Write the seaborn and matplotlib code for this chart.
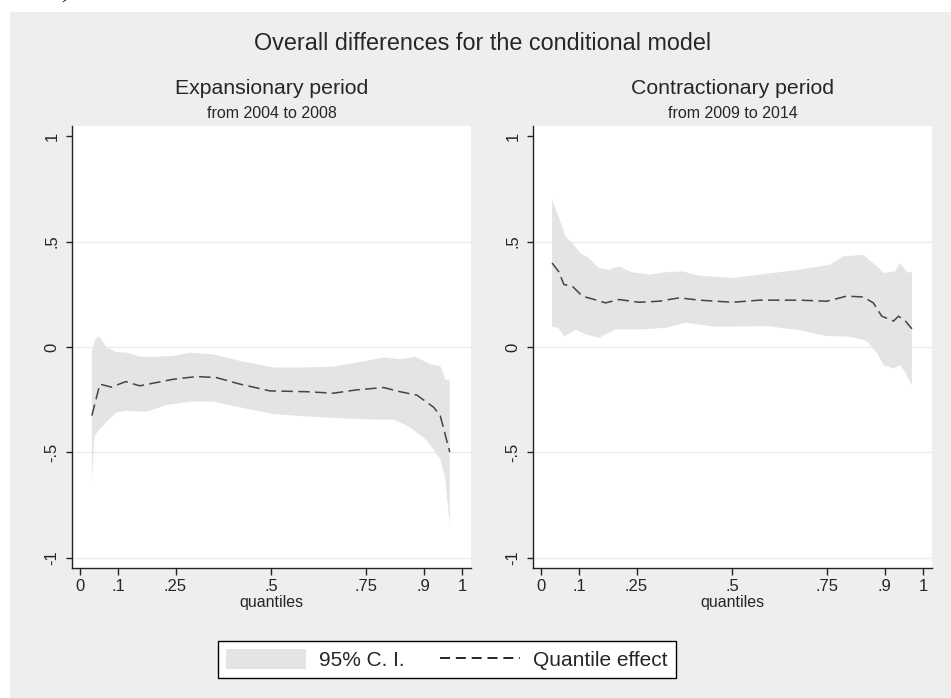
import numpy as np
import pandas as pd
import matplotlib
matplotlib.use("Agg")
import matplotlib.pyplot as plt
from matplotlib.patches import Patch, Rectangle
from matplotlib.lines import Line2D
import seaborn as sns

# ---------------- data ----------------
left_line_q = [0.031, 0.052, 0.082, 0.12, 0.156, 0.244, 0.305, 0.357, 0.419, 0.497,
               0.594, 0.663, 0.725, 0.795, 0.838, 0.882, 0.926, 0.943, 0.968]
left_line_v = [-0.325, -0.176, -0.19, -0.164, -0.184, -0.153, -0.14, -0.145, -0.176, -0.208,
               -0.212, -0.219, -0.203, -0.192, -0.212, -0.228, -0.286, -0.325, -0.498]
left_up_q = [0.031, 0.038, 0.047, 0.056, 0.069, 0.095, 0.122, 0.156, 0.2, 0.244, 0.288, 0.349,
             0.419, 0.506, 0.594, 0.663, 0.733, 0.795, 0.838, 0.878, 0.917, 0.943, 0.956, 0.968]
left_up_v = [-0.027, 0.028, 0.052, 0.036, -0.003, -0.024, -0.027, -0.046, -0.046, -0.042, -0.027,
             -0.035, -0.066, -0.097, -0.097, -0.093, -0.071, -0.05, -0.058, -0.046, -0.082, -0.09,
             -0.153, -0.16]
left_lo_q = [0.031, 0.038, 0.052, 0.069, 0.095, 0.122, 0.174, 0.226, 0.288, 0.349, 0.419, 0.506,
             0.594, 0.681, 0.768, 0.821, 0.865, 0.908, 0.943, 0.956, 0.968]
left_lo_v = [-0.64, -0.42, -0.388, -0.357, -0.31, -0.302, -0.307, -0.275, -0.259, -0.259, -0.286,
             -0.318, -0.329, -0.338, -0.344, -0.344, -0.381, -0.443, -0.53, -0.624, -0.844]

right_line_q = [0.029, 0.046, 0.06, 0.082, 0.108, 0.134, 0.169, 0.204, 0.257, 0.309, 0.362, 0.415,
                0.502, 0.572, 0.677, 0.748, 0.8, 0.844, 0.87, 0.892, 0.923, 0.936, 0.954, 0.971]
right_line_v = [0.398, 0.358, 0.296, 0.288, 0.241, 0.228, 0.209, 0.225, 0.212, 0.217, 0.233, 0.222,
                0.212, 0.222, 0.222, 0.217, 0.241, 0.237, 0.209, 0.146, 0.123, 0.146, 0.123, 0.086]
right_up_q = [0.029, 0.046, 0.064, 0.082, 0.103, 0.125, 0.152, 0.178, 0.204, 0.239, 0.283, 0.327,
              0.371, 0.415, 0.502, 0.59, 0.677, 0.756, 0.791, 0.844, 0.879, 0.897, 0.927, 0.939,
              0.954, 0.962, 0.971]
right_up_v = [0.697, 0.618, 0.524, 0.492, 0.445, 0.421, 0.374, 0.366, 0.382, 0.354, 0.343, 0.354,
              0.358, 0.338, 0.327, 0.347, 0.366, 0.39, 0.429, 0.437, 0.382, 0.351, 0.358, 0.398,
              0.366, 0.351, 0.358]
right_lo_q = [0.029, 0.046, 0.06, 0.09, 0.117, 0.152, 0.195, 0.257, 0.327, 0.379, 0.458, 0.59,
              0.677, 0.748, 0.809, 0.853, 0.879, 0.897, 0.923, 0.94, 0.954, 0.971]
right_lo_v = [0.096, 0.091, 0.049, 0.083, 0.06, 0.044, 0.083, 0.083, 0.091, 0.115, 0.096, 0.099,
              0.08, 0.052, 0.049, 0.028, -0.027, -0.086, -0.102, -0.086, -0.121, -0.184]

x_ticks = [0, 0.1, 0.25, 0.5, 0.75, 0.9, 1]
x_tick_labels = ["0", ".1", ".25", ".5", ".75", ".9", "1"]
y_ticks = [-1, -0.5, 0, 0.5, 1]
y_tick_labels = ["-1", "-.5", "0", ".5", "1"]

main_title = "Overall differences for the conditional model"
panel_titles = ["Expansionary period", "Contractionary period"]
panel_subtitles = ["from 2004 to 2008", "from 2009 to 2014"]
x_label = "quantiles"
legend_labels = ["95% C. I.", "Quantile effect"]
page_fragment = "2013)."

# ---------------- style ----------------
sns.set_theme(style="white")
plt.rcParams["font.family"] = ["Liberation Sans", "DejaVu Sans"]

BG = "#eeeeee"
BAND = "#e4e4e4"
LINE = "#444444"
GRID = "#ececec"
AX = "#222222"

W, H = 951, 698
fig = plt.figure(figsize=(W / 100, H / 100), dpi=100)
fig.patch.set_facecolor("white")
fig.patches.append(Rectangle((10 / W, 0), 1 - 10 / W, 1 - 12 / H, transform=fig.transFigure,
                             facecolor=BG, edgecolor="none", zorder=-10))
# fragment of the surrounding page text, cut by the top edge as in the reference
fig.text(20 / W, 1 + 2 / H, page_fragment, fontsize=16, family="Liberation Serif",
         style="italic", ha="left", va="baseline", color="#111111")


def px_axes(x0, x1, y0, y1):
    return fig.add_axes([x0 / W, 1 - y1 / H, (x1 - x0) / W, (y1 - y0) / H])


panels = [
    (px_axes(72, 471, 126, 568), left_line_q, left_line_v, left_up_q, left_up_v, left_lo_q, left_lo_v),
    (px_axes(533, 932, 126, 568), right_line_q, right_line_v, right_up_q, right_up_v, right_lo_q, right_lo_v),
]

for i, (ax, lq, lv, uq, uv, bq, bv) in enumerate(panels):
    ax.set_facecolor("white")
    for g in [-1, -0.5, 0, 0.5]:
        ax.axhline(g, color=GRID, lw=1.0, zorder=0)
    band_x = list(uq) + list(bq)[::-1]
    band_y = list(uv) + list(bv)[::-1]
    ax.fill(band_x, band_y, color=BAND, lw=0, zorder=1)
    df = pd.DataFrame({"q": lq, "effect": lv})
    sns.lineplot(data=df, x="q", y="effect", ax=ax, color=LINE, lw=1.1,
                 linestyle=(0, (7.5, 3.5)), zorder=3)
    ax.set_xlim(-0.021, 1.0236)
    ax.set_ylim(-1.0474, 1.0474)
    ax.set_xticks(x_ticks)
    ax.set_xticklabels(x_tick_labels, fontsize=12)
    ax.set_yticks(y_ticks)
    ax.set_yticklabels(y_tick_labels, fontsize=12, rotation=90, va="center")
    ax.tick_params(axis="x", length=5, width=1, color=AX, pad=3, bottom=True)
    ax.tick_params(axis="y", length=4.5, width=1, color=AX, pad=4.5, left=True)
    for s in ["top", "right"]:
        ax.spines[s].set_visible(False)
    for s in ["left", "bottom"]:
        ax.spines[s].set_color(AX)
        ax.spines[s].set_linewidth(1.0)
    ax.set_xlabel(x_label, fontsize=11.5, labelpad=0)
    ax.xaxis.set_label_coords(0.5, -(603 - 568) / 442)
    ax.xaxis.label.set_va("center")
    ax.set_ylabel("")
    ax.text(0.5, 1 + 38 / 442, panel_titles[i], transform=ax.transAxes, ha="center",
            va="center", fontsize=15.3)
    ax.text(0.5, 1 + 13 / 442, panel_subtitles[i], transform=ax.transAxes, ha="center",
            va="center", fontsize=11.5)

fig.text(483 / W, 1 - 44 / H, main_title, ha="center", va="center", fontsize=16.8)

handles = [Patch(facecolor=BAND, edgecolor="none"),
           Line2D([0], [0], color="black", lw=1.2, linestyle=(0, (6, 3.5)))]
leg = fig.legend(handles, legend_labels, loc="center", ncol=2,
                 bbox_to_anchor=(447 / W, 1 - 659.5 / H), fontsize=15, frameon=True,
                 fancybox=False, handlelength=3.85, handleheight=1.1, handletextpad=0.63,
                 columnspacing=1.68, borderpad=0.38)
leg.get_frame().set_edgecolor("black")
leg.get_frame().set_linewidth(1.0)
leg.get_frame().set_facecolor("white")
leg.get_frame().set_alpha(1)

fig.savefig("out.png", dpi=100, facecolor=fig.get_facecolor())
